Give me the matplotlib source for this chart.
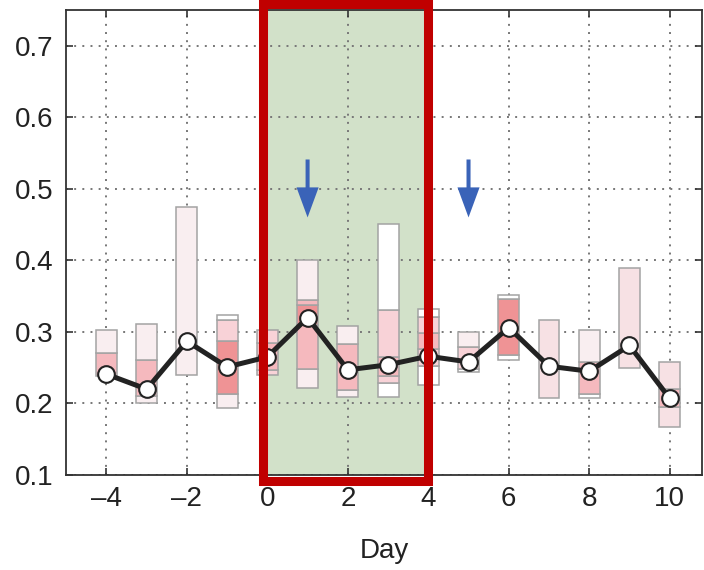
import matplotlib
matplotlib.use("Agg")
import matplotlib.pyplot as plt
from matplotlib.patches import Rectangle
import matplotlib.transforms as mtransforms

plt.rcParams['font.family'] = ['Liberation Sans', 'DejaVu Sans']

# data
days = list(range(-4, 11))
mean_vals = [0.241, 0.220, 0.287, 0.251, 0.265, 0.320, 0.247, 0.254,
             0.266, 0.258, 0.306, 0.252, 0.245, 0.281, 0.207]

# stacked box segments per day: breakpoints (bottom -> top) and shade level
box_edges = [
    [0.238, 0.270, 0.302],
    [0.200, 0.211, 0.261, 0.311],
    [0.240, 0.474],
    [0.194, 0.213, 0.287, 0.316, 0.323],
    [0.240, 0.247, 0.285, 0.303],
    [0.221, 0.248, 0.310, 0.337, 0.345, 0.401],
    [0.209, 0.219, 0.283, 0.308],
    [0.209, 0.229, 0.239, 0.265, 0.330, 0.451],
    [0.226, 0.253, 0.276, 0.299, 0.321, 0.332],
    [0.244, 0.248, 0.279, 0.300],
    [0.261, 0.268, 0.346, 0.352],
    [0.208, 0.317],
    [0.208, 0.213, 0.258, 0.303],
    [0.249, 0.390],
    [0.167, 0.195, 0.220, 0.258],
]
box_shades = [
    [4, 1],
    [1, 4, 1],
    [1],
    [1, 5, 3, 0],
    [3, 4, 3],
    [1, 4, 5, 4, 1],
    [1, 4, 1],
    [0, 3, 4, 3, 0],
    [0, 3, 4, 3, 0],
    [0, 3, 1],
    [0, 5, 0],
    [2],
    [0, 4, 1],
    [2],
    [2, 4, 2],
]
shade_colors = ['#ffffff', '#f9eef0', '#f7e1e4', '#f8d2d7', '#f5b9be', '#ef9395']

arrow_days = [1, 5]
highlight = (-0.1, 4.0)

fig = plt.figure(figsize=(7.04, 5.70), dpi=100)
ax = fig.add_axes([0.094, 0.1667, 0.903, 0.8158])

ax.set_xlim(-5.0, 10.8)
ax.set_ylim(0.1, 0.75)

# green event window
ax.axvspan(0.0, highlight[1], color='#d2e1c9', zorder=0.2, lw=0)

ax.set_axisbelow(True)
ax.grid(True, color='#777777', linestyle=(0, (1, 3.2)), linewidth=1.4)

for d, edges, shades in zip(days, box_edges, box_shades):
    for lo, hi, s in zip(edges[:-1], edges[1:], shades):
        ax.bar(d, hi - lo, bottom=lo, width=0.52, color=shade_colors[s],
               edgecolor='#a3a3a3', linewidth=1.1, zorder=2)

ax.plot(days, mean_vals, color='#222222', lw=3.6, zorder=3,
        marker='o', markersize=12, markerfacecolor='white',
        markeredgecolor='#222222', markeredgewidth=1.5)

for d in arrow_days:
    ax.arrow(d, 0.541, 0, -0.081, width=0.1, head_width=0.55,
             head_length=0.042, length_includes_head=True,
             color='#3a63b8', lw=0, zorder=4)

# red frame around the event window, drawn past the axes
trans = mtransforms.blended_transform_factory(ax.transData, ax.transAxes)
ax.add_patch(Rectangle((highlight[0], -0.014), highlight[1] - highlight[0], 1.026,
                       transform=trans, fill=False, edgecolor='#c00000',
                       linewidth=6.5, clip_on=False, zorder=10))

ax.set_xticks(range(-4, 11, 2))
ax.set_yticks([0.1, 0.2, 0.3, 0.4, 0.5, 0.6, 0.7])
ax.set_yticklabels(['0.1', '0.2', '0.3', '0.4', '0.5', '0.6', '0.7'])
ax.set_xticklabels(['\u20134', '\u20132', '0', '2', '4', '6', '8', '10'])
ax.tick_params(direction='in', length=5, width=1.2, top=True, right=True,
               labelsize=20, labelcolor='#222222', color='#333333')
ax.tick_params(axis='x', pad=8)
ax.tick_params(axis='y', pad=9)
for sp in ax.spines.values():
    sp.set_color('#333333')
    sp.set_linewidth(1.3)

ax.set_xlabel('Day', fontsize=20, color='#222222', labelpad=19)

fig.savefig('out.png', dpi=100)
